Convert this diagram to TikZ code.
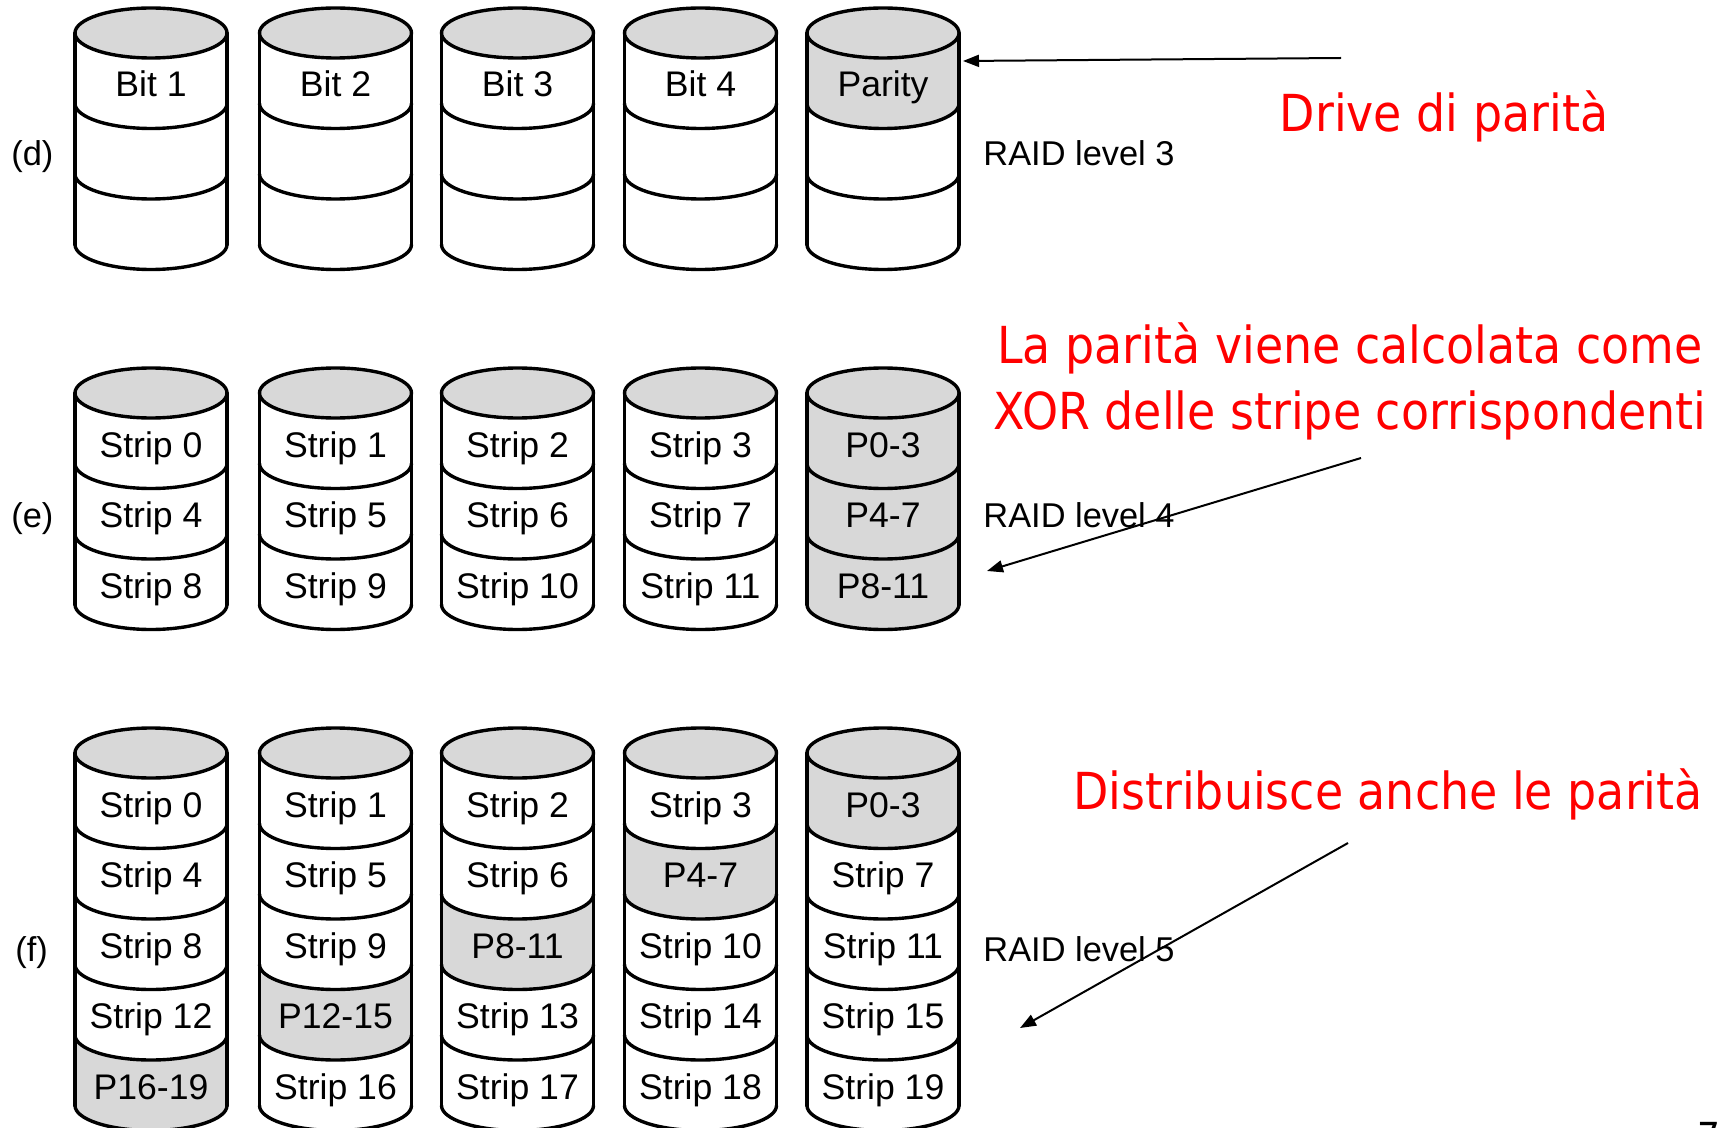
\documentclass[tikz,border=0pt]{standalone}
\usepackage{fontspec}
\setmainfont{Liberation Sans}
\newfontfamily\redfont[FakeStretch=0.9]{DejaVu Sans}
\usetikzlibrary{arrows.meta}
\definecolor{diskgray}{RGB}{216,216,216}
\definecolor{notered}{RGB}{255,0,0}

\newcommand\drawdisk[4]{% #1 cx, #2 top, #3 number of bands, #4 band colours
  \foreach \bandcol [count=\k] in {#4} {
    \pgfmathsetmacro\ya{#2+(\k-1)*70.5}
    \pgfmathsetmacro\yb{#2+\k*70.5}
    \fill[\bandcol] (#1-76,\ya) arc[start angle=180,end angle=0,x radius=76,y radius=25]
      -- (#1+76,\yb) arc[start angle=0,end angle=180,x radius=76,y radius=25] -- cycle;
  }
  \foreach \k in {1,...,#3} {
    \pgfmathsetmacro\yb{#2+\k*70.5}
    \draw[disk] (#1-76,\yb) arc[start angle=180,end angle=0,x radius=76,y radius=25];
  }
  \pgfmathsetmacro\ybot{#2+#3*70.5}
  \draw[disk] (#1-76,#2) -- (#1-76,\ybot);
  \draw[disk] (#1+76,#2) -- (#1+76,\ybot);
  \filldraw[disk,fill=diskgray] (#1,#2) ellipse[x radius=76,y radius=25];
}

\begin{document}
\begin{tikzpicture}[x=0.5pt,y=-0.5pt,
  disk/.style={line width=1.7pt,line cap=round,line join=round},
  bandlabel/.style={font=\fontsize{17.8}{20}\selectfont,anchor=base,inner sep=0pt},
  rowlabel/.style={font=\fontsize{17.2}{20}\selectfont,anchor=base west,inner sep=0pt},
  redlabel/.style={font=\redfont\fontsize{25.5}{32.5}\selectfont,text=notered,anchor=base,inner sep=0pt},
  pointer/.style={line width=1pt,-{Triangle[length=8pt,width=6pt]}}
]
\useasboundingbox[fill=white] (0,0) rectangle (1722,1128);

% ---------- row (d) : RAID level 3 ----------
\drawdisk{151}{33}{3}{white,white,white}
\drawdisk{335.5}{33}{3}{white,white,white}
\drawdisk{517.5}{33}{3}{white,white,white}
\drawdisk{700.5}{33}{3}{white,white,white}
\drawdisk{883}{33}{3}{diskgray,white,white}
\node[bandlabel] (d11) at (151,97) {Bit 1};
\node[bandlabel] (d21) at (335.5,97) {Bit 2};
\node[bandlabel] (d31) at (517.5,97) {Bit 3};
\node[bandlabel] (d41) at (700.5,97) {Bit 4};
\node[bandlabel] (d51) at (883,97) {Parity};
\node[rowlabel] (lblD) at (11,166) {(d)};
\node[rowlabel] (raidD) at (983,166) {RAID level 3};

% ---------- row (e) : RAID level 4 ----------
\drawdisk{151}{393}{3}{white,white,white}
\drawdisk{335.5}{393}{3}{white,white,white}
\drawdisk{517.5}{393}{3}{white,white,white}
\drawdisk{700.5}{393}{3}{white,white,white}
\drawdisk{883}{393}{3}{diskgray,diskgray,diskgray}
\node[bandlabel] (e11) at (151,457) {Strip 0};
\node[bandlabel] (e21) at (335.5,457) {Strip 1};
\node[bandlabel] (e31) at (517.5,457) {Strip 2};
\node[bandlabel] (e41) at (700.5,457) {Strip 3};
\node[bandlabel] (e51) at (883,457) {P0-3};
\node[bandlabel] (e12) at (151,527.5) {Strip 4};
\node[bandlabel] (e22) at (335.5,527.5) {Strip 5};
\node[bandlabel] (e32) at (517.5,527.5) {Strip 6};
\node[bandlabel] (e42) at (700.5,527.5) {Strip 7};
\node[bandlabel] (e52) at (883,527.5) {P4-7};
\node[bandlabel] (e13) at (151,598) {Strip 8};
\node[bandlabel] (e23) at (335.5,598) {Strip 9};
\node[bandlabel] (e33) at (517.5,598) {Strip 10};
\node[bandlabel] (e43) at (700.5,598) {Strip 11};
\node[bandlabel] (e53) at (883,598) {P8-11};
\node[rowlabel] (lblE) at (11,527) {(e)};
\node[rowlabel] (raidE) at (983,527) {RAID level 4};

% ---------- row (f) : RAID level 5 ----------
\drawdisk{151}{753}{5}{white,white,white,white,diskgray}
\drawdisk{335.5}{753}{5}{white,white,white,diskgray,white}
\drawdisk{517.5}{753}{5}{white,white,diskgray,white,white}
\drawdisk{700.5}{753}{5}{white,diskgray,white,white,white}
\drawdisk{883}{753}{5}{diskgray,white,white,white,white}
\node[bandlabel] (f11) at (151,817) {Strip 0};
\node[bandlabel] (f21) at (335.5,817) {Strip 1};
\node[bandlabel] (f31) at (517.5,817) {Strip 2};
\node[bandlabel] (f41) at (700.5,817) {Strip 3};
\node[bandlabel] (f51) at (883,817) {P0-3};
\node[bandlabel] (f12) at (151,887.5) {Strip 4};
\node[bandlabel] (f22) at (335.5,887.5) {Strip 5};
\node[bandlabel] (f32) at (517.5,887.5) {Strip 6};
\node[bandlabel] (f42) at (700.5,887.5) {P4-7};
\node[bandlabel] (f52) at (883,887.5) {Strip 7};
\node[bandlabel] (f13) at (151,958) {Strip 8};
\node[bandlabel] (f23) at (335.5,958) {Strip 9};
\node[bandlabel] (f33) at (517.5,958) {P8-11};
\node[bandlabel] (f43) at (700.5,958) {Strip 10};
\node[bandlabel] (f53) at (883,958) {Strip 11};
\node[bandlabel] (f14) at (151,1028.5) {Strip 12};
\node[bandlabel] (f24) at (335.5,1028.5) {P12-15};
\node[bandlabel] (f34) at (517.5,1028.5) {Strip 13};
\node[bandlabel] (f44) at (700.5,1028.5) {Strip 14};
\node[bandlabel] (f54) at (883,1028.5) {Strip 15};
\node[bandlabel] (f15) at (151,1099) {P16-19};
\node[bandlabel] (f25) at (335.5,1099) {Strip 16};
\node[bandlabel] (f35) at (517.5,1099) {Strip 17};
\node[bandlabel] (f45) at (700.5,1099) {Strip 18};
\node[bandlabel] (f55) at (883,1099) {Strip 19};
\node[rowlabel] (lblF) at (15,961) {(f)};
\node[rowlabel] (raidF) at (983,961) {RAID level 5};

% ---------- red notes ----------
\node[redlabel] (noteD) at (1444,132) {Drive di parità};
\node[redlabel] (noteE1) at (1350,364) {La parità viene calcolata come};
\node[redlabel] (noteE2) at (1350,429) {XOR delle stripe corrispondenti};
\node[redlabel] (noteF) at (1388,809) {Distribuisce anche le parità};

% ---------- pointers ----------
\coordinate (a1s) at (1341,58);
\coordinate (a1e) at (963,61);
\coordinate (a2s) at (1361,458);
\coordinate (a2e) at (987,571);
\coordinate (a3s) at (1348,843);
\coordinate (a3e) at (1020,1028);
\draw[pointer] (a1s) -- (a1e);
\draw[pointer] (a2s) -- (a2e);
\draw[pointer] (a3s) -- (a3e);

% ---------- page number (mostly cut off) ----------
\node[font=\redfont\fontsize{20}{24}\selectfont,anchor=north west,inner sep=0pt] (pagenum) at (1697,1122) {7};
\end{tikzpicture}
\end{document}
